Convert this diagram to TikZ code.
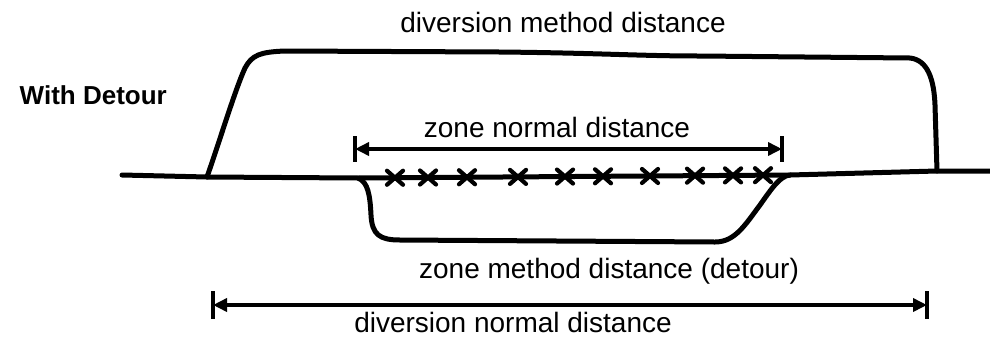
\documentclass[tikz,border=0pt]{standalone}
\usepackage{fontspec}
\setmainfont{Liberation Sans}
\usetikzlibrary{arrows.meta}
\begin{document}
\begin{tikzpicture}[x=1pt,y=-1pt,
  road/.style={line width=5pt,line cap=round,line join=round},
  dim/.style={line width=4pt,{Triangle[length=14pt,width=13pt]}-{Triangle[length=14pt,width=13pt]}},
  dimbar/.style={line width=4pt},
  lbl/.style={font=\fontsize{28}{32}\selectfont,inner sep=0pt,anchor=base},
  xmark/.style={line width=4.2pt,line cap=round}]
\useasboundingbox (0,0) rectangle (990,341);
% road points
\coordinate (r0) at (122,175);
\coordinate (d1) at (207,177);
\coordinate (z1) at (358,178);
\coordinate (z2) at (790,175);
\coordinate (d2) at (937,171);
\coordinate (r1) at (990,171);
\draw[road] (r0) -- (d1) -- (z1) -- (z2) -- (d2) -- (r1);
% top detour
\draw[road] (d1) .. controls (220,140) and (235,90) .. (245,68)
  .. controls (252,55) and (260,52) .. (285,51) -- (500,52)
  .. controls (600,53) and (640,56) .. (700,56) -- (910,58)
  .. controls (928,60) and (934,80) .. (935,105) -- (d2);
% bottom detour
\draw[road] (z1) .. controls (368,182) and (370,195) .. (371,215)
  .. controls (372,235) and (380,240) .. (400,240) -- (715,242)
  .. controls (735,242) and (745,225) .. (760,205)
  .. controls (772,188) and (780,176) .. (z2);
% crosses
\foreach \x in {395,428,467,518,565,603,650,695,733,763}{
  \pgfmathsetmacro{\yy}{178-(\x-358)*3/432}
  \draw[xmark] (\x-8,\yy-7) -- (\x+8,\yy+7);
  \draw[xmark] (\x-8,\yy+7) -- (\x+8,\yy-7);
}
% zone normal distance
\coordinate (zl) at (355,149);
\coordinate (zr) at (782,149);
\draw[dim] (zl) -- (zr);
\draw[dimbar] ([yshift=13pt]zl) -- ([yshift=-13pt]zl);
\draw[dimbar] ([yshift=13pt]zr) -- ([yshift=-13pt]zr);
% diversion normal distance
\coordinate (dl) at (213,305);
\coordinate (dr) at (927,305);
\draw[dim] (dl) -- (dr);
\draw[dimbar] ([yshift=14pt]dl) -- ([yshift=-14pt]dl);
\draw[dimbar] ([yshift=14pt]dr) -- ([yshift=-14pt]dr);
% labels
\node[lbl] (tdm) at (563,32) {diversion method distance};
\node[lbl] (tzn) at (557,137) {zone normal distance};
\node[lbl] (tzm) at (609,278) {zone method distance (detour)};
\node[lbl] (tdn) at (513,332) {diversion normal distance};
\node[font=\fontsize{26}{30}\selectfont\bfseries,inner sep=0pt,anchor=base east] (twd) at (167,104) {With Detour};
\end{tikzpicture}
\end{document}
